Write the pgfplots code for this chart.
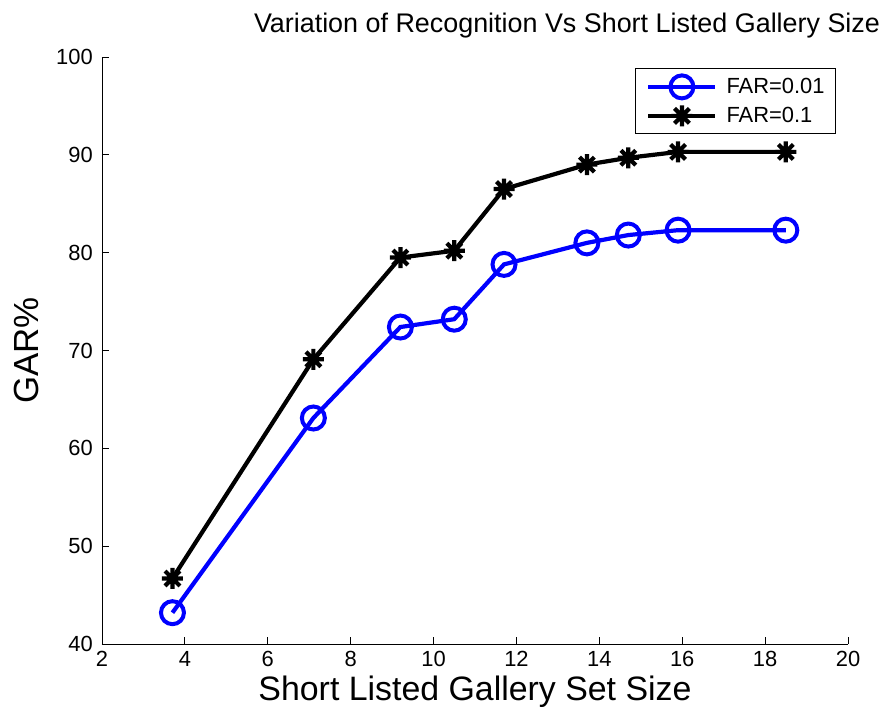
\documentclass[border=0pt]{standalone}
\usepackage{fontspec}
\setmainfont{Liberation Sans}
\usepackage{pgfplots}
\pgfplotsset{compat=1.18}
\pgfdeclareplotmark{mstar}{%
  \pgfpathmoveto{\pgfqpoint{0pt}{\pgfplotmarksize}}%
  \pgfpathlineto{\pgfqpoint{0pt}{-\pgfplotmarksize}}%
  \pgfpathmoveto{\pgfqpoint{\pgfplotmarksize}{0pt}}%
  \pgfpathlineto{\pgfqpoint{-\pgfplotmarksize}{0pt}}%
  \pgfpathmoveto{\pgfqpoint{0.7071\pgfplotmarksize}{0.7071\pgfplotmarksize}}%
  \pgfpathlineto{\pgfqpoint{-0.7071\pgfplotmarksize}{-0.7071\pgfplotmarksize}}%
  \pgfpathmoveto{\pgfqpoint{0.7071\pgfplotmarksize}{-0.7071\pgfplotmarksize}}%
  \pgfpathlineto{\pgfqpoint{-0.7071\pgfplotmarksize}{0.7071\pgfplotmarksize}}%
  \pgfusepathqstroke}
\pgfplotsset{mylegend/.style={legend image code/.code={\draw[mark repeat=2,mark phase=2,##1] plot coordinates {(0bp,0bp) (33.5bp,0bp) (67bp,0bp)};}}}
\begin{document}
\begin{tikzpicture}
\path[use as bounding box] (-102bp,-75bp) rectangle (781bp,644bp);
\begin{axis}[
  scale only axis, width=746bp, height=587bp,
  xmin=2, xmax=20, ymin=40, ymax=100,
  xtick={2,4,...,20}, ytick={40,50,...,100},
  axis x line*=bottom, axis y line*=left,
  axis line style={line width=0.8bp, black, -},
  tick align=inside, major tick length=7bp,
  tick style={line width=0.8bp, black},
  /pgf/number format/assume math mode=true,
  tick label style={font=\fontsize{22}{22}\selectfont},
  xticklabel style={anchor=base, yshift=-22bp, inner sep=0pt},
  yticklabel style={anchor=east, inner sep=0pt, xshift=-9bp},
  title={Variation of Recognition Vs Short Listed Gallery Size},
  title style={font=\fontsize{27}{27}\selectfont, at={(axis description cs:0.6233,1)}, anchor=base, yshift=19bp, inner sep=0pt},
  xlabel={Short Listed Gallery Set Size},
  xlabel style={font=\fontsize{34}{34}\selectfont, at={(axis description cs:0.5,0)}, anchor=base, yshift=-56bp, inner sep=0pt},
  ylabel={GAR\%},
  ylabel style={font=\fontsize{35}{35}\selectfont, at={(axis description cs:-0.0845,0.5)}, anchor=base, inner sep=0pt},
  legend style={at={(axis description cs:0.9839,0.9813)}, anchor=north east, draw=black, line width=0.8bp,
    font=\fontsize{22}{22}\selectfont, inner xsep=11bp, inner ysep=7bp, row sep=7bp, column sep=9bp,
    nodes={inner sep=0pt}},
  legend cell align=left,
]
\addplot[blue, line width=4.2bp, mark=o, mark size=11.5bp, mark options={line width=4bp, solid}, mylegend]
  coordinates {(3.7,43.2) (7.1,63.1) (9.2,72.4) (10.5,73.2) (11.7,78.8) (13.7,81.0) (14.7,81.8) (15.9,82.3) (18.5,82.3)};
\addlegendentry{FAR=0.01}
\addplot[black, line width=4.2bp, mark=mstar, mark size=10.5bp, mark options={line width=4.2bp, solid}, mylegend]
  coordinates {(3.7,46.7) (7.1,69.1) (9.2,79.5) (10.5,80.2) (11.7,86.5) (13.7,89.0) (14.7,89.7) (15.9,90.3) (18.5,90.3)};
\addlegendentry{FAR=0.1}
\end{axis}
\end{tikzpicture}
\end{document}
